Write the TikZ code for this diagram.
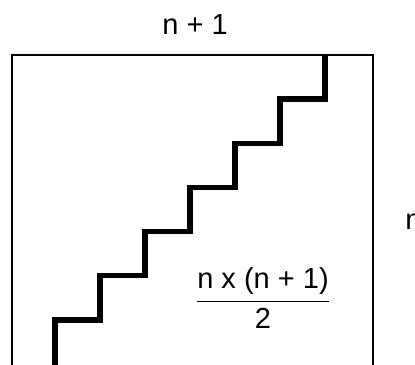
\documentclass[tikz,border=0pt]{standalone}
\usepackage{amsmath}
\usepackage{fontspec}
\setmainfont{Liberation Sans}
\usepackage{tikz}
\tikzset{
  frame/.style={draw=black, line width=1pt},
  stair/.style={draw=black, line width=2.6pt, line join=miter},
  lbl/.style={inner sep=0pt, font=\fontsize{14.5}{17}\selectfont},
}

\begin{document}
\begin{tikzpicture}[x=0.5pt, y=-0.5pt]
\useasboundingbox (0,0) rectangle (415,364);
\clip (0,0) rectangle (415,364);
% square n x (n+1)
\draw[frame] (12,55) rectangle (373,372);
% staircase
\draw[stair] (55,372) -- (55,320) -- (100,320) -- (100,275.8) -- (145,275.8) -- (145,231.6)
  -- (190,231.6) -- (190,187.4) -- (235,187.4) -- (235,143.2) -- (280,143.2) -- (280,99)
  -- (325,99) -- (325,55);
% labels
\node[lbl, anchor=base] (top) at (195,34) {n + 1};
\node[lbl, anchor=base west] (side) at (405,229) {n};
\node[lbl] (area) at (263,298) {$\dfrac{\mbox{n x (n + 1)}}{\mbox{2}}$};
\end{tikzpicture}
\end{document}
